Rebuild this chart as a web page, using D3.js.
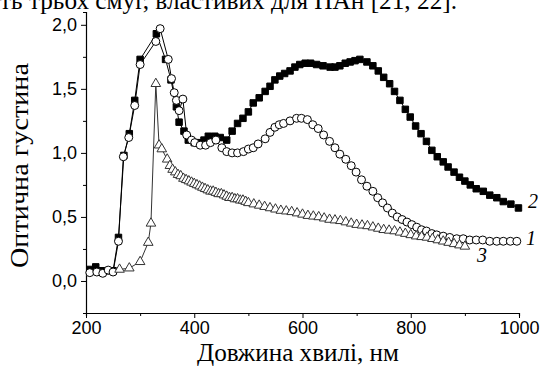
<!DOCTYPE html>
<html>
<head>
<meta charset="utf-8">
<script src="https://cdn.jsdelivr.net/npm/d3@7"></script>
<style>
  body { margin: 0; background: #fff; }
  svg { display: block; }
  .tick text { font-family: "Liberation Sans", Arial, sans-serif; font-size: 18px; fill: #000; }
  .serif { font-family: "Liberation Serif", "Times New Roman", serif; fill: #000; }
</style>
</head>
<body>
<svg id="chart" width="541" height="367"></svg>
<script>
// wavelength (nm) and optical density
var wave2 = [207, 218, 230, 240, 250, 260, 270, 280, 290, 300, 330, 347, 357, 367, 372, 381, 389, 400, 410, 418, 426, 438, 448, 460, 470, 480, 490, 500, 509, 520, 531, 540, 549, 558, 567, 577, 586, 595, 605, 615, 626, 638, 651, 660, 669, 679, 688, 697, 706, 719, 730, 740, 750, 761, 770, 780, 790, 799, 809, 819, 829, 839, 849, 860, 869, 880, 890, 900, 910, 921, 934, 946, 959, 971, 985, 999];
var od2   = [0.09, 0.11, 0.08, 0.08, 0.08, 0.34, 0.98, 1.15, 1.41, 1.73, 1.93, 1.73, 1.57, 1.36, 1.24, 1.17, 1.10, 1.08, 1.08, 1.10, 1.13, 1.13, 1.12, 1.10, 1.17, 1.23, 1.27, 1.32, 1.39, 1.43, 1.48, 1.52, 1.57, 1.60, 1.62, 1.64, 1.67, 1.69, 1.70, 1.70, 1.69, 1.68, 1.67, 1.67, 1.68, 1.70, 1.71, 1.72, 1.73, 1.71, 1.68, 1.64, 1.59, 1.54, 1.48, 1.41, 1.34, 1.28, 1.21, 1.15, 1.09, 1.02, 0.97, 0.93, 0.89, 0.85, 0.81, 0.78, 0.75, 0.72, 0.70, 0.67, 0.65, 0.62, 0.60, 0.57];

var wave1 = [207, 220, 231, 241, 250, 260, 269, 279, 290, 300, 329, 337, 352, 358, 363, 367, 372, 379, 386, 395, 401, 411, 421, 430, 440, 451, 460, 470, 480, 491, 500, 509, 518, 531, 540, 549, 557, 565, 577, 589, 598, 609, 619, 629, 639, 650, 660, 669, 680, 690, 699, 709, 719, 730, 739, 748, 757, 766, 775, 784, 793, 802, 811, 820, 829, 839, 848, 860, 872, 885, 897, 909, 921, 933, 946, 959, 971, 984, 996];
var od1   = [0.065, 0.07, 0.06, 0.085, 0.07, 0.31, 0.97, 1.12, 1.37, 1.69, 1.87, 1.97, 1.73, 1.58, 1.47, 1.41, 1.33, 1.42, 1.14, 1.10, 1.08, 1.06, 1.06, 1.08, 1.10, 1.04, 1.01, 1.00, 1.00, 1.01, 1.03, 1.04, 1.07, 1.11, 1.16, 1.20, 1.22, 1.23, 1.25, 1.27, 1.27, 1.26, 1.22, 1.19, 1.14, 1.09, 1.04, 0.99, 0.95, 0.90, 0.85, 0.79, 0.74, 0.70, 0.65, 0.61, 0.57, 0.53, 0.50, 0.48, 0.46, 0.44, 0.42, 0.40, 0.39, 0.37, 0.36, 0.35, 0.34, 0.33, 0.33, 0.32, 0.32, 0.32, 0.31, 0.31, 0.31, 0.31, 0.31];

var wave3 = [262, 280, 300, 315, 320, 329, 335, 340, 350, 355, 360, 365, 370, 375, 380, 385, 390, 395, 400, 405, 410, 415, 420, 425, 430, 435, 440, 445, 450, 455, 460, 465, 470, 475, 480, 485, 490, 495, 500, 510, 520, 530, 540, 550, 560, 570, 580, 590, 600, 610, 620, 630, 640, 650, 660, 670, 680, 690, 700, 710, 720, 730, 740, 750, 760, 770, 780, 790, 800, 810, 820, 830, 840, 850, 860, 870, 880, 890, 900];
var od3   = [0.09, 0.10, 0.15, 0.30, 0.45, 1.54, 1.06, 1.03, 0.95, 0.90, 0.87, 0.85, 0.83, 0.82, 0.80, 0.79, 0.78, 0.77, 0.76, 0.75, 0.74, 0.73, 0.72, 0.71, 0.70, 0.70, 0.69, 0.68, 0.68, 0.67, 0.66, 0.65, 0.65, 0.64, 0.64, 0.63, 0.63, 0.62, 0.61, 0.60, 0.59, 0.58, 0.57, 0.56, 0.55, 0.545, 0.54, 0.53, 0.52, 0.51, 0.505, 0.50, 0.49, 0.48, 0.475, 0.47, 0.46, 0.45, 0.44, 0.435, 0.43, 0.42, 0.41, 0.40, 0.395, 0.39, 0.38, 0.37, 0.36, 0.35, 0.345, 0.34, 0.33, 0.32, 0.31, 0.30, 0.29, 0.28, 0.27];

var xTicks = [200, 400, 600, 800, 1000];
var xMinor = [300, 500, 700, 900];
var yTicks = [0, 0.5, 1.0, 1.5, 2.0];
var yMinor = [-0.25, 0.25, 0.75, 1.25, 1.75];

var xTitle = "Довжина хвилі, нм";
var yTitle = "Оптична густина";
var topLine = "ть трьох смуг, властивих для ПАн [21, 22].";

var svg = d3.select("#chart");

var x = d3.scaleLinear().domain([200, 1000]).range([86, 519]);
var y = d3.scaleLinear().domain([-0.25, 2.1]).range([313, 12]);

var fmt = function(d) { return d3.format(".1f")(d).replace(".", ","); };

// cropped line of running text above the figure
svg.append("text").attr("class", "serif")
  .attr("x", 0).attr("y", 9)
  .attr("textLength", 457).attr("lengthAdjust", "spacingAndGlyphs")
  .style("font-size", "25px")
  .text(topLine);

// axes
var gx = svg.append("g").attr("transform", "translate(0,313)")
  .call(d3.axisBottom(x).tickValues(xTicks).tickSize(5).tickPadding(3).tickFormat(d3.format("d")));
gx.append("g").call(d3.axisBottom(x).tickValues(xMinor).tickSize(3).tickFormat(""));

var gy = svg.append("g").attr("transform", "translate(86,0)")
  .call(d3.axisLeft(y).tickValues(yTicks).tickSize(5).tickPadding(4).tickFormat(fmt));
gy.append("g").call(d3.axisLeft(y).tickValues(yMinor).tickSize(3).tickFormat(""));

svg.selectAll(".domain").attr("stroke", "#000").attr("stroke-width", 1.2);
svg.selectAll(".tick line").attr("stroke", "#000");
gx.select("g .domain").remove();
gy.select("g .domain").remove();

// series helpers
var line = d3.line().x(function(d) { return x(d[0]); }).y(function(d) { return y(d[1]); });

function drawSeries(waves, vals, shape, fill, stroke, size) {
  var pts = d3.zip(waves, vals);
  var g = svg.append("g");
  g.append("path").datum(pts).attr("d", line)
    .attr("fill", "none").attr("stroke", stroke).attr("stroke-width", 1);
  g.selectAll("path.m").data(pts).enter().append("path").attr("class", "m")
    .attr("transform", function(d) { return "translate(" + x(d[0]) + "," + y(d[1]) + ")"; })
    .attr("d", d3.symbol().type(shape).size(size))
    .attr("fill", fill).attr("stroke", stroke).attr("stroke-width", 1);
}

drawSeries(wave2, od2, d3.symbolSquare, "#000", "#000", 42);
drawSeries(wave1, od1, d3.symbolCircle, "#fff", "#000", 50);
drawSeries(wave3, od3, d3.symbolTriangle, "#fff", "#333", 40);

// curve numbers
var labels = [["2", 528, 208], ["1", 526, 245], ["3", 477, 262]];
svg.selectAll("text.num").data(labels).enter().append("text")
  .attr("class", "serif num")
  .attr("x", function(d) { return d[1]; }).attr("y", function(d) { return d[2]; })
  .style("font-size", "20px").style("font-style", "italic")
  .text(function(d) { return d[0]; });

// axis titles
svg.append("text").attr("class", "serif")
  .attr("x", 197).attr("y", 361)
  .attr("textLength", 202).attr("lengthAdjust", "spacingAndGlyphs")
  .style("font-size", "25px")
  .text(xTitle);

svg.append("text").attr("class", "serif")
  .attr("transform", "translate(28,268) rotate(-90)")
  .attr("textLength", 205).attr("lengthAdjust", "spacingAndGlyphs")
  .style("font-size", "25px")
  .text(yTitle);
</script>
</body>
</html>
